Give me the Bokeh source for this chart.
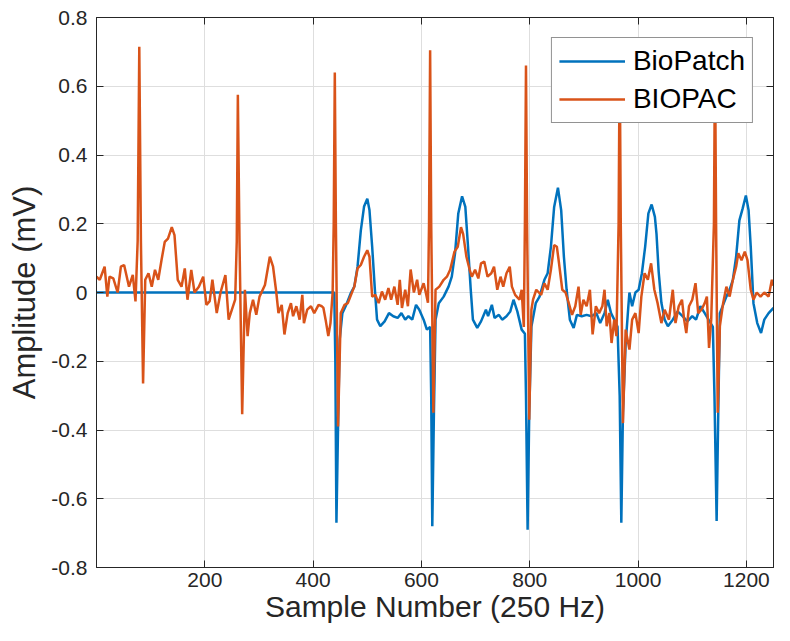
from bokeh.plotting import figure
from bokeh.models import (Range1d, FixedTicker, LinearAxis, CustomJSTickFormatter,
                          Legend, LegendItem)
from bokeh.embed import file_html
from bokeh.resources import INLINE

# ---------------- data ----------------
biopatch_x = [0, 439, 441, 443, 446, 449, 454, 461, 470, 476, 482, 488, 494, 500, 504, 509, 514, 518,
              524, 532, 540, 548, 556, 563, 570, 576, 583, 590, 596, 604, 610, 616, 618, 620, 623, 626,
              632, 641, 650, 656, 662, 668, 675, 681, 686, 691, 695, 703, 710, 719, 723, 730, 735, 743,
              749, 757, 764, 770, 777, 785, 791, 793, 796, 799, 803, 811, 818, 827, 833, 839, 845, 852,
              858, 863, 868, 874, 881, 887, 896, 905, 914, 923, 930, 938, 944, 950, 956, 962, 966, 969,
              972, 977, 982, 984, 989, 995, 1001, 1007, 1013, 1019, 1025, 1031, 1034, 1038, 1043, 1049,
              1055, 1064, 1073, 1082, 1091, 1100, 1107, 1115, 1123, 1130, 1138, 1141, 1145, 1148, 1151,
              1157, 1163, 1169, 1175, 1181, 1187, 1193, 1199, 1204, 1208, 1213, 1220, 1227, 1233, 1241,
              1250]
biopatch_y = [0.0, 0.0, -0.2, -0.67, -0.39, -0.137, -0.06, -0.036, 0.0, 0.017, 0.075, 0.18, 0.25, 0.273,
              0.24, 0.133, 0.008, -0.079, -0.098, -0.084, -0.06, -0.069, -0.074, -0.06, -0.079, -0.069,
              -0.079, -0.036, -0.05, -0.079, -0.108, -0.1, -0.3, -0.68, -0.35, -0.079, -0.031, -0.012,
              0.017, 0.046, 0.114, 0.23, 0.28, 0.249, 0.133, 0.008, -0.079, -0.103, -0.084, -0.05, -0.069,
              -0.036, -0.074, -0.065, -0.079, -0.069, -0.055, -0.021, -0.055, -0.108, -0.12, -0.3, -0.69,
              -0.35, -0.1, -0.031, -0.012, 0.037, 0.056, 0.133, 0.249, 0.305, 0.239, 0.104, 0.008, -0.079,
              -0.103, -0.065, -0.069, -0.065, -0.069, -0.06, -0.089, -0.06, -0.021, -0.06, -0.079, -0.1,
              -0.3, -0.67, -0.35, -0.15, -0.04, 0.0, -0.04, 0.0, 0.008, 0.056, 0.133, 0.23, 0.256, 0.22,
              0.17, 0.06, -0.03, -0.079, -0.098, -0.079, -0.055, -0.069, -0.084, -0.069, -0.079, -0.04,
              -0.06, -0.079, -0.1, -0.3, -0.665, -0.35, -0.06, -0.036, -0.012, 0.008, 0.037, 0.104, 0.21,
              0.244, 0.282, 0.239, 0.133, -0.031, -0.089, -0.118, -0.079, -0.06, -0.045]

biopac_x = [0, 6, 15, 20, 24, 31, 39, 45, 51, 60, 67, 72, 76, 79, 82, 86, 90, 96, 102, 108, 114, 120,
            126, 132, 139, 144, 150, 157, 163, 168, 175, 181, 189, 197, 203, 209, 214, 222, 229, 238,
            244, 250, 256, 259, 261, 264, 269, 274, 279, 283, 289, 295, 301, 311, 320, 326, 332, 336,
            342, 347, 353, 359, 363, 369, 375, 380, 383, 389, 396, 402, 410, 416, 419, 423, 428, 432,
            436, 438, 440, 442, 446, 451, 458, 464, 470, 476, 482, 488, 494, 500, 504, 509, 515, 521,
            527, 533, 539, 544, 550, 556, 560, 564, 570, 575, 580, 586, 592, 596, 604, 608, 612, 614,
            616, 618, 622, 626, 633, 641, 647, 653, 661, 667, 673, 677, 683, 689, 693, 699, 705, 710,
            716, 722, 729, 734, 740, 746, 751, 757, 763, 767, 773, 781, 785, 789, 791, 793, 795, 799,
            803, 806, 812, 821, 827, 833, 839, 845, 850, 854, 860, 866, 872, 878, 884, 890, 894, 899,
            905, 911, 916, 922, 928, 934, 938, 942, 947, 951, 956, 960, 964, 966, 968, 972, 977, 984,
            989, 995, 1001, 1006, 1012, 1018, 1024, 1030, 1036, 1043, 1049, 1057, 1064, 1069, 1075,
            1081, 1085, 1089, 1094, 1100, 1106, 1111, 1117, 1123, 1127, 1131, 1135, 1140, 1142, 1144,
            1147, 1151, 1157, 1163, 1169, 1175, 1181, 1185, 1191, 1197, 1202, 1208, 1213, 1219, 1226,
            1233, 1241, 1247, 1250]
biopac_y = [0.046, 0.037, 0.075, -0.012, 0.046, 0.041, 0.0, 0.075, 0.08, 0.017, 0.051, -0.026, 0.15,
            0.715, 0.15, -0.265, 0.037, 0.056, 0.017, 0.066, 0.037, 0.094, 0.147, 0.157, 0.19, 0.167,
            0.037, 0.017, 0.07, -0.021, 0.066, 0.0, 0.017, 0.046, -0.036, -0.025, 0.037, -0.06, 0.0,
            0.051, -0.079, -0.05, -0.021, 0.15, 0.575, 0.15, -0.354, 0.008, -0.127, -0.06, -0.021,
            -0.065, -0.012, 0.022, 0.104, 0.075, 0.0, -0.06, -0.036, -0.122, -0.06, -0.031, -0.069,
            -0.04, -0.079, -0.007, -0.089, -0.05, -0.04, -0.06, -0.036, -0.04, -0.045, -0.079, -0.127,
            -0.089, 0.0, 0.2, 0.64, 0.2, -0.39, -0.06, -0.036, -0.031, -0.007, 0.017, 0.07, 0.08, 0.104,
            0.123, 0.104, -0.012, -0.007, -0.031, 0.003, -0.021, 0.013, -0.021, 0.017, -0.036, 0.037,
            -0.045, 0.008, -0.04, 0.067, 0.0, 0.037, -0.007, 0.027, 0.0, -0.03, 0.2, 0.705, 0.2, -0.35,
            0.008, 0.017, 0.037, 0.046, 0.066, 0.119, 0.133, 0.19, 0.17, 0.104, 0.066, 0.046, 0.066,
            0.041, 0.085, 0.09, 0.046, 0.056, 0.075, 0.008, 0.046, 0.017, 0.056, 0.075, 0.017, -0.007,
            -0.021, 0.008, -0.1, 0.2, 0.66, 0.2, -0.37, -0.05, -0.021, 0.008, -0.007, 0.027, 0.008,
            0.066, 0.138, 0.133, 0.085, 0.008, 0.0, -0.031, -0.065, -0.04, 0.017, -0.065, -0.021,
            -0.04, 0.008, -0.122, -0.04, -0.06, -0.04, 0.008, -0.098, -0.06, -0.147, -0.079, -0.127,
            0.2, 0.7, 0.2, -0.38, -0.108, -0.166, -0.079, -0.06, -0.118, -0.012, 0.056, 0.037, 0.085,
            0.008, -0.031, -0.089, -0.05, -0.079, 0.008, -0.089, -0.04, -0.021, -0.079, -0.118, -0.04,
            -0.021, 0.027, -0.06, -0.05, -0.031, -0.012, -0.161, -0.079, 0.2, 0.7, 0.2, -0.35, -0.098,
            -0.031, 0.017, -0.012, 0.037, 0.075, 0.114, 0.094, 0.119, 0.094, 0.008, -0.021, 0.0,
            -0.012, 0.0, -0.012, 0.037, 0.02]

x_ticks = [200, 400, 600, 800, 1000, 1200]
y_ticks = [-0.8, -0.6, -0.4, -0.2, 0.0, 0.2, 0.4, 0.6, 0.8]
series_names = ["BioPatch", "BIOPAC"]
x_label = "Sample Number (250 Hz)"
y_label = "Amplitude (mV)"

# ---------------- styling ----------------
FONT = "Liberation Sans"
TXT = "#262626"
BLUE = "#0072BD"
ORANGE = "#D95319"

p = figure(width=774, height=625, output_backend="svg", toolbar_location=None,
           x_range=Range1d(0, 1250), y_range=Range1d(-0.8, 0.8),
           min_border_left=96, min_border_right=1, min_border_top=17, min_border_bottom=58,
           x_axis_label=x_label, y_axis_label=y_label)
p.background_fill_color = "white"
p.border_fill_color = "white"
p.outline_line_color = TXT
p.outline_line_width = 1

r1 = p.line(biopatch_x, biopatch_y, line_color=BLUE, line_width=2.5)
r2 = p.line(biopac_x, biopac_y, line_color=ORANGE, line_width=2.5)

yfmt = CustomJSTickFormatter(code="return Math.abs(tick) < 1e-9 ? '0' : tick.toFixed(1);")
blank = CustomJSTickFormatter(code="return '';")

for ax in p.xaxis:
    ax.ticker = FixedTicker(ticks=x_ticks)
for ax in p.yaxis:
    ax.ticker = FixedTicker(ticks=y_ticks)
    ax.formatter = yfmt

for ax in list(p.xaxis) + list(p.yaxis):
    ax.axis_line_color = TXT
    ax.major_tick_line_color = TXT
    ax.major_tick_in = 7
    ax.major_tick_out = 0
    ax.minor_tick_line_color = None
    ax.major_label_text_font = FONT
    ax.major_label_text_font_size = "21px"
    ax.major_label_text_color = TXT
    ax.axis_label_text_font = FONT
    ax.axis_label_text_font_style = "normal"
    ax.axis_label_text_color = TXT

p.xaxis.major_label_standoff = 5
p.xaxis.axis_label_text_font_size = "30px"
p.xaxis.axis_label_standoff = 0
p.yaxis.major_label_standoff = 9
p.yaxis.axis_label_text_font_size = "31px"
p.yaxis.axis_label_standoff = 6

# box axes (top / right) with inward ticks, no labels
top = LinearAxis(ticker=FixedTicker(ticks=x_ticks), formatter=blank,
                 major_tick_in=7, major_tick_out=0,
                 axis_line_color=TXT, major_tick_line_color=TXT, minor_tick_line_color=None,
                 major_label_text_font_size="1px", major_label_standoff=0)
right = LinearAxis(ticker=FixedTicker(ticks=y_ticks), formatter=blank,
                   major_tick_in=7, major_tick_out=0,
                   axis_line_color=TXT, major_tick_line_color=TXT, minor_tick_line_color=None,
                   major_label_text_font_size="1px", major_label_standoff=0)
p.add_layout(top, "above")
p.add_layout(right, "right")

p.xgrid.grid_line_color = "#dedede"
p.ygrid.grid_line_color = "#dedede"
p.xgrid.grid_line_width = 1
p.ygrid.grid_line_width = 1

legend = Legend(items=[LegendItem(label=series_names[0], renderers=[r1]),
                       LegendItem(label=series_names[1], renderers=[r2])],
                location="top_right")
legend.label_text_font = FONT
legend.label_text_font_size = "28px"
legend.label_text_color = "black"
legend.glyph_width = 66
legend.glyph_height = 20
legend.label_standoff = 8
legend.padding = 7
legend.spacing = 6
legend.margin = 20
legend.border_line_color = TXT
legend.border_line_width = 1.2
legend.background_fill_color = "white"
legend.background_fill_alpha = 1.0
p.add_layout(legend, "center")

open("out.html", "w").write(file_html(p, INLINE))
